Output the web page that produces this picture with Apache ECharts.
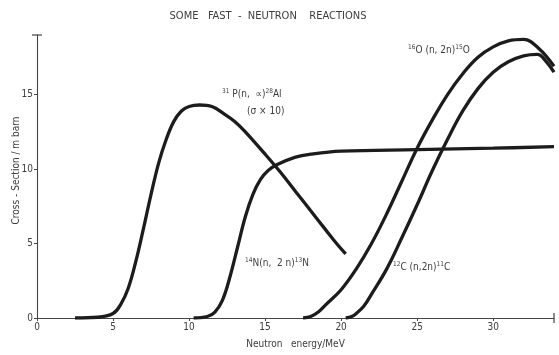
<!DOCTYPE html>
<html>
<head>
<meta charset="utf-8">
<script src="https://cdn.jsdelivr.net/npm/echarts@6/dist/echarts.min.js"></script>
<style>
  html, body { margin: 0; padding: 0; background: #fff; }
  #chart { width: 559px; height: 355px; }
</style>
</head>
<body>
<div id="chart"></div>
<script>
// Axis ticks
const xTicks = [0, 5, 10, 15, 20, 25, 30];
const yTicks = [0, 5, 10, 15];

// 31P(n,alpha)28Al, cross-section shown multiplied by 10
const pEnergy = [2.5, 4, 5, 5.5, 6, 6.5, 7, 7.5, 8, 8.5, 9, 9.5, 10, 10.7, 11.5, 12.3, 13, 13.7, 15, 16, 17, 18, 19, 19.7, 20.3];
const pCross  = [0, 0.05, 0.3, 0.9, 2.0, 3.8, 6.0, 8.3, 10.4, 12.0, 13.2, 13.9, 14.2, 14.3, 14.2, 13.7, 13.2, 12.5, 11.0, 9.8, 8.5, 7.2, 5.9, 5.0, 4.3];

// 14N(n,2n)13N
const nEnergy = [10.3, 11.2, 11.7, 12.2, 12.7, 13.2, 13.7, 14.2, 14.7, 15.2, 15.8, 17, 18, 20, 25, 30, 34];
const nCross  = [0, 0.1, 0.4, 1.2, 2.8, 4.8, 6.8, 8.3, 9.3, 9.9, 10.3, 10.8, 11.0, 11.2, 11.3, 11.4, 11.5];

// 16O(n,2n)15O
const oEnergy = [17.5, 18, 18.5, 19, 20, 21, 22, 23, 24, 25, 26, 27, 28, 29, 30, 31, 32, 33, 34];
const oCross  = [0, 0.1, 0.4, 0.9, 1.9, 3.3, 5.0, 7.0, 9.2, 11.4, 13.3, 15.0, 16.4, 17.5, 18.2, 18.6, 18.7, 18.1, 16.9];

// 12C(n,2n)11C
const cEnergy = [20.3, 20.7, 21, 21.5, 22, 23, 24, 25, 26, 27, 28, 29, 30, 31, 32, 32.9, 33.5, 34];
const cCross  = [0, 0.1, 0.3, 0.8, 1.6, 3.3, 5.4, 7.6, 9.9, 12.0, 13.9, 15.4, 16.5, 17.2, 17.6, 17.7, 17.2, 16.5];

const FONT = "'DejaVu Sans Condensed', 'Liberation Sans Narrow', sans-serif";
const INK = '#1c1c1c';
const TXT = '#3c3c3c';

function pairs(xs, ys) { return xs.map((x, i) => [x, ys[i]]); }

function curve(name, xs, ys) {
  return {
    name: name,
    type: 'line',
    data: pairs(xs, ys),
    smooth: 0.4,
    showSymbol: false,
    lineStyle: { color: INK, width: 3.3 },
    z: 3
  };
}

// reaction label with superscript mass numbers
function reaction(left, top, parts) {
  return {
    type: 'text', left: left, top: top,
    style: {
      text: parts,
      rich: {
        s: { fontFamily: FONT, fontSize: 6.5, fill: TXT, padding: [0, 0, 6, 0] },
        m: { fontFamily: FONT, fontSize: 10, fill: TXT }
      }
    }
  };
}

const chart = echarts.init(document.getElementById('chart'));
chart.setOption({
  animation: false,
  backgroundColor: '#fff',
  title: {
    text: 'SOME   FAST  -  NEUTRON    REACTIONS',
    left: 263, top: 6, textAlign: 'center',
    textStyle: { fontFamily: FONT, fontSize: 11, fontWeight: 'normal', color: TXT }
  },
  grid: { left: 37, right: 5, top: 35, bottom: 37, containLabel: false, outerBoundsMode: 'none' },
  xAxis: {
    type: 'value', min: 0, max: 34, interval: 5,
    name: 'Neutron   energy/MeV', nameLocation: 'middle', nameGap: 21,
    nameTextStyle: { fontFamily: FONT, fontSize: 10, color: TXT },
    axisLine: { lineStyle: { color: '#444', width: 1.1 }, symbol: ['none', 'rect'], symbolSize: [10, 1.2] },
    axisTick: { show: true, length: 3, lineStyle: { color: '#444' } },
    axisLabel: { fontFamily: FONT, fontSize: 10, color: TXT, margin: 4, showMaxLabel: false,
                 formatter: v => (xTicks.includes(v) ? String(v) : '') },
    splitLine: { show: false }
  },
  yAxis: {
    type: 'value', min: 0, max: 19, interval: 5,
    name: 'Cross - Section / m barn', nameLocation: 'middle', nameGap: 16, nameMoveOverlap: false,
    nameTextStyle: { fontFamily: FONT, fontSize: 10, color: TXT, padding: [0, 0, 0, 12] },
    axisLine: { lineStyle: { color: '#444', width: 1.1 }, symbol: ['none', 'rect'], symbolSize: [10, 1.2] },
    axisTick: { show: true, length: 3, lineStyle: { color: '#444' } },
    axisLabel: { fontFamily: FONT, fontSize: 10, color: TXT, margin: 4, showMaxLabel: false,
                 formatter: v => (yTicks.includes(v) ? String(v) : '') },
    splitLine: { show: false }
  },
  series: [
    curve('31P(n,a)28Al', pEnergy, pCross),
    curve('14N(n,2n)13N', nEnergy, nCross),
    curve('16O(n,2n)15O', oEnergy, oCross),
    curve('12C(n,2n)11C', cEnergy, cCross)
  ],
  graphic: [
    reaction(222, 88, '{s|31}{m| P(n,  \u221D)}{s|28}{m|Al}'),
    {
      type: 'text', left: 247, top: 106,
      style: { text: '(\u03C3 \u00D7 10)', fontFamily: FONT, fontSize: 10, fill: TXT }
    },
    reaction(245, 257, '{s|14}{m|N(n,  2 n)}{s|13}{m|N}'),
    reaction(408, 44, '{s|16}{m|O (n, 2n)}{s|15}{m|O}'),
    reaction(393, 261, '{s|12}{m|C (n,2n)}{s|11}{m|C}')
  ]
});
</script>
</body>
</html>
